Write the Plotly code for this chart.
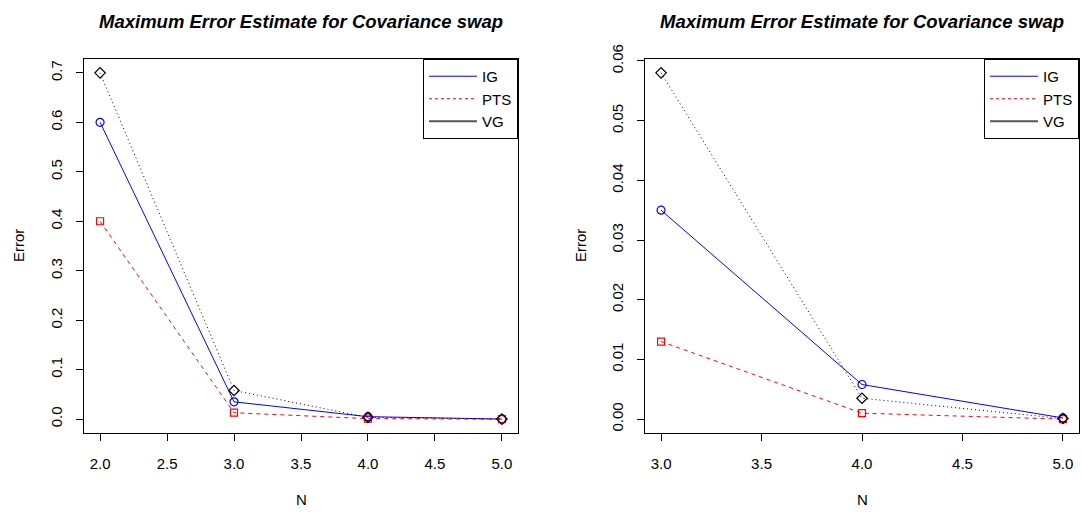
import plotly.graph_objects as go

# Data
N_left = [2, 3, 4, 5]
IG_left = [0.6, 0.035, 0.005, 0.0002]
PTS_left = [0.4, 0.013, 0.001, 0.0]
VG_left = [0.7, 0.058, 0.0035, 0.0001]

N_right = [3, 4, 5]
IG_right = [0.035, 0.0058, 0.0002]
PTS_right = [0.013, 0.001, 0.0]
VG_right = [0.058, 0.0035, 0.0001]

series_names = ["IG", "PTS", "VG"]
title_text = "Maximum Error Estimate for Covariance swap"

W, H = 1081, 512
FONT = "Liberation Sans, Arial, sans-serif"
FS = 15

fig = go.Figure()

styles = {
    "IG": dict(color="blue", dash="solid", symbol="circle-open", size=8),
    "PTS": dict(color="red", dash="4px,4px", symbol="square-open", size=7),
    "VG": dict(color="black", dash="1px,3px", symbol="diamond-open", size=8),
}

def add_panel(xs, ig, pts, vg, xa, ya, legend_name):
    for name, ys in zip(series_names, [ig, pts, vg]):
        s = styles[name]
        fig.add_trace(go.Scatter(
            x=xs, y=ys, mode="lines+markers", xaxis=xa, yaxis=ya,
            line=dict(color=s["color"], width=1, dash=s["dash"]),
            marker=dict(symbol=s["symbol"], size=s["size"], color=s["color"],
                        line=dict(width=1.2, color=s["color"])),
            showlegend=False, hoverinfo="x+y"))
    leg_styles = {
        "IG": dict(color="blue", width=1.2, dash="solid"),
        "PTS": dict(color="red", width=1.2, dash="3px,3px"),
        "VG": dict(color="#555555", width=2, dash="solid"),
    }
    for name in series_names:
        fig.add_trace(go.Scatter(
            x=[None], y=[None], mode="lines", xaxis=xa, yaxis=ya,
            line=leg_styles[name], name=name, legend=legend_name,
            showlegend=True))

add_panel(N_left, IG_left, PTS_left, VG_left, "x", "y", "legend")
add_panel(N_right, IG_right, PTS_right, VG_right, "x2", "y2", "legend2")

xdomL = [84 / W, 518 / W]
xdomR = [645 / W, 1079 / W]
ydom = [1 - 433 / H, 1 - 59 / H]

axis_common = dict(
    showgrid=False, zeroline=False, showline=True, linecolor="black",
    linewidth=1, mirror=True, ticks="outside", ticklen=7, tickwidth=1,
    tickcolor="black", tickfont=dict(family=FONT, size=FS, color="black"),
    automargin=False,
)

def yrange(vals_max):
    pad = vals_max * 0.04
    return [-pad, vals_max + pad]

def xrange(lo, hi):
    pad = (hi - lo) * 0.04
    return [lo - pad, hi + pad]

leg_common = dict(yanchor="top", xanchor="right", bordercolor="black", borderwidth=1,
                  bgcolor="white", font=dict(family=FONT, size=FS), tracegroupgap=0,
                  itemwidth=48)

fig.update_layout(
    width=W, height=H, margin=dict(l=0, r=0, t=0, b=0, autoexpand=False),
    paper_bgcolor="white", plot_bgcolor="white",
    font=dict(family=FONT, size=FS, color="black"),
    xaxis=dict(domain=xdomL, range=xrange(2, 5), tickvals=[2, 2.5, 3, 3.5, 4, 4.5, 5],
               tickformat=".1f", anchor="y", ticklabelstandoff=10, **axis_common),
    yaxis=dict(domain=ydom, range=yrange(0.7), tickvals=[0, 0.1, 0.2, 0.3, 0.4, 0.5, 0.6, 0.7],
               tickformat=".1f", tickangle=-90, anchor="x", ticklabelstandoff=8, **axis_common),
    xaxis2=dict(domain=xdomR, range=xrange(3, 5), tickvals=[3, 3.5, 4, 4.5, 5],
                tickformat=".1f", anchor="y2", ticklabelstandoff=10, **axis_common),
    yaxis2=dict(domain=ydom, range=yrange(0.058), tickvals=[0, 0.01, 0.02, 0.03, 0.04, 0.05, 0.06],
                tickformat=".2f", tickangle=-90, anchor="x2", ticklabelstandoff=8, **axis_common),
    legend=dict(x=518 / W, y=ydom[1], **leg_common),
    legend2=dict(x=1079 / W, y=ydom[1], **leg_common),
)

annotations = []
for cx in [(84 + 518) / 2, (645 + 1079) / 2]:
    annotations.append(dict(text="<b><i>" + title_text + "</i></b>", x=cx / W, y=1 - 21 / H,
                            xref="paper", yref="paper", showarrow=False,
                            font=dict(family=FONT, size=18.5, color="black"),
                            xanchor="center", yanchor="middle"))
    annotations.append(dict(text="N", x=cx / W, y=1 - 499 / H, xref="paper", yref="paper",
                            showarrow=False, font=dict(family=FONT, size=FS),
                            xanchor="center", yanchor="middle"))
for ex in [18, 580]:
    annotations.append(dict(text="Error", x=ex / W, y=1 - 246 / H, xref="paper", yref="paper",
                            showarrow=False, textangle=-90, font=dict(family=FONT, size=FS),
                            xanchor="center", yanchor="middle"))
fig.update_layout(annotations=annotations)

fig.write_html("out.html")
